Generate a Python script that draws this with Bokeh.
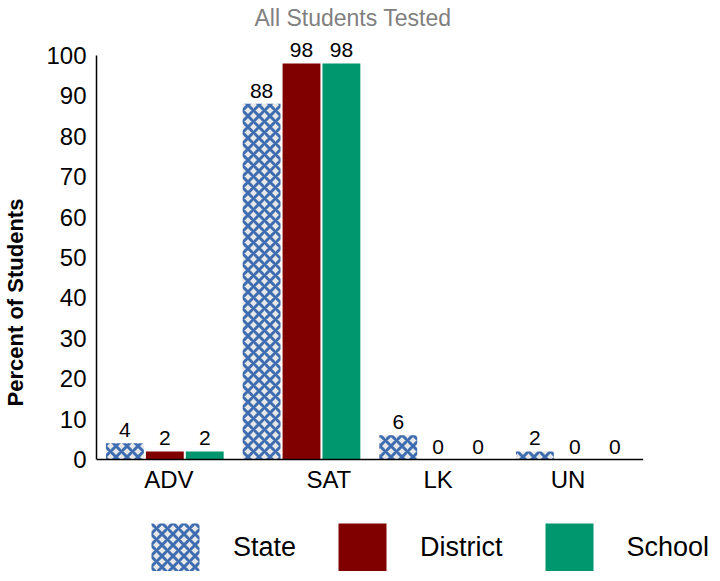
from bokeh.plotting import figure
from bokeh.models import ColumnDataSource, Legend, LegendItem, FixedTicker, LabelSet
from bokeh.core.properties import value
from bokeh.embed import file_html
from bokeh.resources import INLINE

categories = ["ADV", "SAT", "LK", "UN"]
state = [4, 88, 6, 2]
district = [2, 98, 0, 0]
school = [2, 98, 0, 0]
series_names = ["State", "District", "School"]
category_label_positions = [0.53, 1.7, 2.5, 3.45]
y_ticks = list(range(0, 101, 10))
subtitle = "All Students Tested"
y_label = "Percent of Students"

FONT = "Liberation Sans"

p = figure(frame_width=615, frame_height=538, x_range=(0, 4.5), y_range=(-27.7, 105.4),
           output_backend="svg", toolbar_location=None, x_axis_location=None,
           min_border_left=89, min_border_right=0, min_border_top=0,
           min_border_bottom=0)
p.title.text = subtitle
p.title.align = "left"
p.title.offset = 158
p.title.text_color = "#808080"
p.title.text_font = FONT
p.title.text_font_size = "23px"
p.title.text_font_style = "normal"
p.title.standoff = 5
p.outline_line_color = None
p.xgrid.grid_line_color = None
p.ygrid.grid_line_color = None
p.background_fill_color = "white"

offsets = [-0.292, 0.0, 0.292]
bar_w = 0.277
series = [state, district, school]
renderers = []
for k, vals in enumerate(series):
    xs = [i + 0.5 + offsets[k] for i in range(len(categories))]
    src = ColumnDataSource(dict(x=xs, top=vals, lab=[str(v) for v in vals]))
    if k == 0:
        r = p.vbar(x="x", top="top", width=bar_w, source=src,
                   fill_color="#e8e8e8", line_color=None,
                   hatch_pattern="diagonal_cross", hatch_color="#3d6db0",
                   hatch_weight=3, hatch_scale=11)
    else:
        color = "#800000" if k == 1 else "#00966e"
        r = p.vbar(x="x", top="top", width=bar_w, source=src,
                   fill_color=color, line_color=None)
    renderers.append(r)
    labels = LabelSet(x="x", y="top", text="lab", source=src, y_offset=6,
                      text_align="center", text_baseline="bottom",
                      text_font=value(FONT), text_font_size=value("21px"),
                      text_color="black")
    p.add_layout(labels)

# category baseline and labels (x axis drawn at y = 0)
p.segment(x0=[0], y0=[0], x1=[len(categories)], y1=[0], line_color="black", line_width=1.5)
cat_src = ColumnDataSource(dict(x=category_label_positions, y=[0] * len(categories), lab=categories))
p.add_layout(LabelSet(x="x", y="y", text="lab", source=cat_src, y_offset=-6,
                      text_align="center", text_baseline="top",
                      text_font=value(FONT), text_font_size=value("24px"),
                      text_color="black"))

p.yaxis.ticker = FixedTicker(ticks=y_ticks)
p.yaxis.bounds = (0, 100)
p.yaxis.major_tick_line_color = None
p.yaxis.minor_tick_line_color = None
p.yaxis.axis_line_color = "black"
p.yaxis.axis_line_width = 1.5
p.yaxis.major_label_text_font = FONT
p.yaxis.major_label_text_font_size = "24px"
p.yaxis.major_label_text_color = "black"
p.yaxis.major_label_standoff = 4
p.yaxis.axis_label = y_label
p.yaxis.axis_label_text_font = FONT
p.yaxis.axis_label_text_font_size = "22px"
p.yaxis.axis_label_text_font_style = "bold"
p.yaxis.axis_label_text_color = "black"
p.yaxis.axis_label_standoff = 15

legend = Legend(items=[LegendItem(label=n, renderers=[r]) for n, r in zip(series_names, renderers)],
                orientation="horizontal", location=(49, -6),
                glyph_width=60, glyph_height=60, label_standoff=28, spacing=36,
                label_text_font=FONT, label_text_font_size="27px",
                label_text_baseline="top", label_text_color="black",
                border_line_color=None, background_fill_alpha=0,
                margin=0, padding=0)
p.add_layout(legend, "center")

open("out.html", "w").write(file_html(p, INLINE))
